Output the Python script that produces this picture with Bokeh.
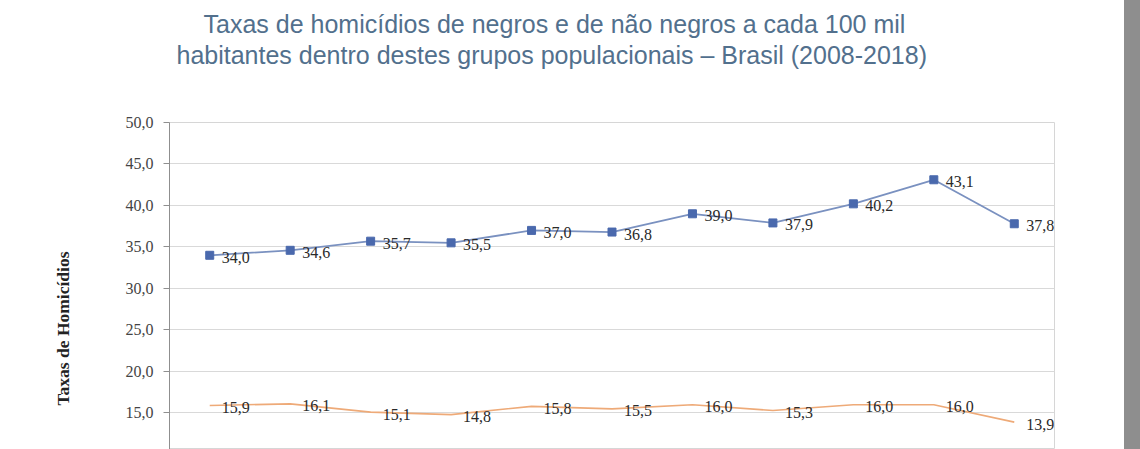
from bokeh.plotting import figure
from bokeh.models import ColumnDataSource, Range1d, Title, CustomJSTickFormatter, Div, FactorRange, FixedTicker
from bokeh.layouts import row
from bokeh.embed import file_html
from bokeh.resources import INLINE
from bokeh.core.properties import value

# ---- data ----
anos = ["2008", "2009", "2010", "2011", "2012", "2013", "2014", "2015", "2016", "2017", "2018"]
negros = [34.0, 34.6, 35.7, 35.5, 37.0, 36.8, 39.0, 37.9, 40.2, 43.1, 37.8]
nao_negros = [15.9, 16.1, 15.1, 14.8, 15.8, 15.5, 16.0, 15.3, 16.0, 16.0, 13.9]
y_ticks = [10, 15, 20, 25, 30, 35, 40, 45, 50]
titulo_1 = "Taxas de homicídios de negros e de não negros a cada 100 mil"
titulo_2 = "habitantes dentro destes grupos populacionais – Brasil (2008-2018)"
eixo_y = "Taxas de Homicídios"


def fmt(v):
    return f"{v:.1f}".replace(".", ",")


src_n = ColumnDataSource(dict(x=anos, y=negros, lbl=[fmt(v) for v in negros]))
src_nn = ColumnDataSource(dict(x=anos, y=nao_negros, lbl=[fmt(v) for v in nao_negros]))

p = figure(width=1124, height=449,
           x_range=FactorRange(*anos), y_range=Range1d(10.6, 50),
           output_backend="svg", toolbar_location=None,
           min_border_left=169, min_border_right=70, min_border_top=0, min_border_bottom=0,
           background_fill_color="white", border_fill_color="white")

p.outline_line_color = "#d6d6d6"
p.xaxis.visible = False
p.xgrid.visible = False
p.ygrid.grid_line_color = "#d9d9d9"
p.ygrid.grid_line_width = 1

ax = p.yaxis[0]
ax.ticker = FixedTicker(ticks=y_ticks)
ax.formatter = CustomJSTickFormatter(code="return tick.toFixed(1).replace('.', ',');")
ax.axis_line_color = "#8f8f8f"
ax.major_tick_line_color = "#8f8f8f"
ax.major_tick_out = 6
ax.major_tick_in = 0
ax.minor_tick_out = 0
ax.minor_tick_in = 0
ax.major_label_text_font = "Liberation Serif"
ax.major_label_text_font_size = "16px"
ax.major_label_text_color = "#444444"
ax.major_label_standoff = 10

# lines
p.line("x", "y", source=src_nn, line_color="#eeaa78", line_width=1.6)
p.line("x", "y", source=src_n, line_color="#7a91c0", line_width=1.8)
p.scatter("x", "y", source=src_n, marker="square", size=8,
          fill_color="#4a69ad", line_color="#4a69ad")

# data labels
for s in (src_n, src_nn):
    p.text("x", "y", text="lbl", source=s, x_offset=12, y_offset=2,
           text_align="left", text_baseline="middle",
           text_font=value("Liberation Serif"), text_font_size="16px",
           text_color="#2a2a2a")

# titles (nearest to frame added first)
p.title = None
p.add_layout(Title(text=" ", standoff=57, text_font_size="1px"), "above")
p.add_layout(Title(text=titulo_2, align="left", offset=7, standoff=-12,
                   text_font="Liberation Sans", text_font_size="25px",
                   text_font_style="normal", text_color="#52708d"), "above")
p.add_layout(Title(text=titulo_1, align="left", offset=34, standoff=14,
                   text_font="Liberation Sans", text_font_size="25px",
                   text_font_style="normal", text_color="#52708d"), "above")

# y axis title
p.add_layout(Title(text=eixo_y, align="left", offset=44, standoff=100,
                   text_font="Liberation Serif", text_font_size="17.5px",
                   text_font_style="bold", text_color="#222222"), "left")

bar = Div(width=16, height=449, margin=0,
          styles={"background-color": "#8e8e8e", "width": "16px", "height": "449px"})

layout = row(p, bar, spacing=0)
open("out.html", "w").write(file_html(layout, INLINE))
